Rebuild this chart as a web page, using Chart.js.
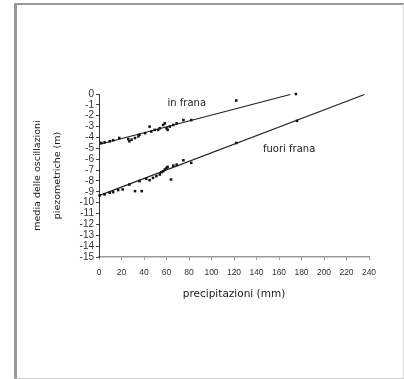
<!DOCTYPE html>
<html>
<head>
<meta charset="utf-8">
<script src="https://cdn.jsdelivr.net/npm/chart.js@4"></script>
<style>
  html, body { margin: 0; padding: 0; background: #fff; }
  #wrap { position: relative; width: 404px; height: 379px; }
  #frame {
    position: absolute; left: 14px; top: 3px; right: 0; bottom: 0;
    border-left: 3px solid #999; border-top: 2px solid #999;
    border-bottom: 1px solid #ccc; border-right: 1px solid #ddd;
  }
  canvas { position: absolute; left: 0; top: 0; }
</style>
</head>
<body>
<div id="wrap">
  <div id="frame"></div>
  <canvas id="chart" width="404" height="379"></canvas>
</div>
<script>
// precipitation (mm) vs mean piezometric oscillation (m)
const inFranaX = [2, 5, 9.5, 12.5, 18, 26, 27, 29, 32, 35, 36, 41, 45, 46.5, 49.5, 52.5, 54, 57, 58.5, 60, 61, 63, 66, 69, 75, 82, 122, 175];
const inFranaY = [-4.5, -4.45, -4.35, -4.25, -4.05, -4.15, -4.35, -4.2, -4.05, -3.9, -3.75, -3.6, -3.0, -3.45, -3.3, -3.3, -3.15, -2.85, -2.7, -3.15, -3.3, -3.0, -2.85, -2.7, -2.4, -2.4, -0.6, 0];

const fuoriFranaX = [0.6, 5, 9.5, 12.5, 17, 21, 27, 32, 38, 36, 42, 45, 48, 51, 54, 55.5, 57, 58.5, 60, 61, 64, 66, 69, 75, 82, 122, 176];
const fuoriFranaY = [-9.33, -9.24, -9.09, -9.03, -8.84, -8.78, -8.33, -8.94, -8.94, -8.02, -7.81, -7.93, -7.72, -7.56, -7.41, -7.2, -7.11, -6.95, -6.8, -6.71, -7.87, -6.59, -6.5, -6.1, -6.34, -4.51, -2.47];

// fitted lines (end points)
const inFranaFitX = [0, 170];
const inFranaFitY = [-4.65, -0.05];
const fuoriFranaFitX = [0, 236];
const fuoriFranaFitY = [-9.35, -0.05];

const labels = ["in frana", "fuori frana"];
const labelX = [78, 169];
const labelY = [-0.82, -5.1];

const toPoints = (xs, ys) => xs.map((x, i) => ({ x, y: ys[i] }));

const textLabels = {
  id: "textLabels",
  afterDatasetsDraw(chart) {
    const { ctx, scales } = chart;
    ctx.save();
    ctx.font = "10px 'DejaVu Sans'";
    ctx.fillStyle = "#222";
    ctx.textAlign = "center";
    ctx.textBaseline = "middle";
    labels.forEach((t, i) => {
      ctx.fillText(t, scales.x.getPixelForValue(labelX[i]), scales.y.getPixelForValue(labelY[i]));
    });
    ctx.restore();
  }
};

new Chart(document.getElementById("chart"), {
  type: "scatter",
  data: {
    datasets: [
      {
        data: toPoints(inFranaX, inFranaY),
        pointStyle: "rect", pointRadius: 1.8,
        backgroundColor: "#111", borderColor: "#111", borderWidth: 0
      },
      {
        data: toPoints(fuoriFranaX, fuoriFranaY),
        pointStyle: "rect", pointRadius: 1.8,
        backgroundColor: "#111", borderColor: "#111", borderWidth: 0
      },
      {
        type: "line",
        data: toPoints(inFranaFitX, inFranaFitY),
        borderColor: "#222", borderWidth: 1.2, pointRadius: 0
      },
      {
        type: "line",
        data: toPoints(fuoriFranaFitX, fuoriFranaFitY),
        borderColor: "#222", borderWidth: 1.2, pointRadius: 0
      }
    ]
  },
  options: {
    responsive: false,
    animation: false,
    clip: false,
    layout: { padding: { left: 0, top: 94, right: 35, bottom: 0 } },
    plugins: { legend: { display: false }, tooltip: { enabled: false } },
    scales: {
      x: {
        type: "linear", min: 0, max: 240,
        ticks: { stepSize: 20, autoSkip: false, color: "#333", padding: 8, maxRotation: 0, font: { family: "Liberation Sans", size: 8.5 } },
        grid: { drawOnChartArea: false, drawTicks: true, tickLength: 3, color: "#999" },
        border: { color: "#999", width: 1.5 },
        title: { display: true, text: "precipitazioni (mm)", color: "#1a1a1a", font: { family: "DejaVu Sans", size: 10.5 }, padding: { top: 0, bottom: 78 } },
        afterFit(scale) { scale.height = 122; }
      },
      y: {
        min: -15, max: 0,
        ticks: { stepSize: 1, autoSkip: false, color: "#333", padding: 2, font: { family: "Liberation Sans", size: 10 } },
        grid: { drawOnChartArea: false, drawTicks: true, tickLength: 3, color: "#444" },
        border: { color: "#333", width: 1 },
        title: {
          display: true, text: ["media delle oscillazioni", "piezometriche (m)"], color: "#1a1a1a",
          font: { family: "DejaVu Sans", size: 9.5, lineHeight: 2.1 }, padding: { top: 28, bottom: 0 }
        },
        afterFit(scale) { scale.width = 99; }
      }
    }
  },
  plugins: [textLabels]
});
</script>
</body>
</html>
